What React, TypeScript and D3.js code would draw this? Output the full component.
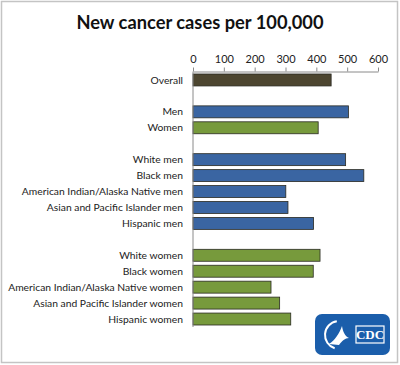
import { useEffect, useRef } from "react";
import * as d3 from "d3";

const categories = [
  "Overall",
  "Men",
  "Women",
  "White men",
  "Black men",
  "American Indian/Alaska Native men",
  "Asian and Pacific Islander men",
  "Hispanic men",
  "White women",
  "Black women",
  "American Indian/Alaska Native women",
  "Asian and Pacific Islander women",
  "Hispanic women",
];
const values = [448, 504, 406, 495, 554, 301, 308, 391, 412, 390, 253, 281, 317];
const groups = ["overall", "men", "women", "men", "men", "men", "men", "men", "women", "women", "women", "women", "women"];
// empty rows between the blocks
const rowOrder = [
  "Overall", "gap1", "Men", "Women", "gap2",
  "White men", "Black men", "American Indian/Alaska Native men", "Asian and Pacific Islander men", "Hispanic men",
  "gap3",
  "White women", "Black women", "American Indian/Alaska Native women", "Asian and Pacific Islander women", "Hispanic women",
];
const ticks = [0, 100, 200, 300, 400, 500, 600];

const W = 400;
const H = 365;
const FONT = "Lato, 'Open Sans', sans-serif";

const App = () => {
  const ref = useRef<SVGSVGElement>(null);

  useEffect(() => {
    const svg = d3.select(ref.current);
    svg.selectAll("*").remove();

    const color = d3
      .scaleOrdinal<string>()
      .domain(["overall", "men", "women"])
      .range(["#4d4630", "#3a65a2", "#779a3c"]);

    const x = d3.scaleLinear().domain([0, 600]).range([193, 378]);
    const y = d3
      .scaleBand()
      .domain(rowOrder)
      .range([72, 327])
      .paddingInner(0.25)
      .paddingOuter(0.125);

    // frame
    svg
      .append("rect")
      .attr("x", 1.5)
      .attr("y", 1.5)
      .attr("width", W - 4)
      .attr("height", H - 4)
      .attr("fill", "#fff")
      .attr("stroke", "#c4c4c4")
      .attr("stroke-width", 1.5);

    svg
      .append("text")
      .attr("x", 200)
      .attr("y", 29)
      .attr("text-anchor", "middle")
      .attr("font-family", FONT)
      .attr("font-weight", "bold")
      .attr("font-size", 18.3)
      .attr("fill", "#111")
      .text("New cancer cases per 100,000");

    const axis = svg
      .append("g")
      .attr("transform", "translate(0,71.5)")
      .call(d3.axisTop(x).tickValues(ticks).tickSize(4).tickSizeOuter(0).tickPadding(5));
    axis.select(".domain").attr("stroke", "#8a8a8a");
    axis.selectAll(".tick line").attr("stroke", "#8a8a8a");
    axis
      .selectAll(".tick text")
      .attr("font-family", FONT)
      .attr("font-size", 11)
      .attr("fill", "#222");

    const data = categories.map((c, i) => ({ name: c, value: values[i], group: groups[i] }));

    svg
      .append("g")
      .selectAll("rect")
      .data(data)
      .enter()
      .append("rect")
      .attr("x", x(0))
      .attr("y", (d) => y(d.name) as number)
      .attr("width", (d) => x(d.value) - x(0))
      .attr("height", y.bandwidth())
      .attr("fill", (d) => color(d.group))
      .attr("stroke", "#2a2a22")
      .attr("stroke-width", 0.8);

    svg
      .append("line")
      .attr("x1", x(0))
      .attr("x2", x(0))
      .attr("y1", 71.5)
      .attr("y2", 327)
      .attr("stroke", "#8a8a8a");

    svg
      .append("g")
      .selectAll("text")
      .data(data)
      .enter()
      .append("text")
      .attr("x", 183)
      .attr("y", (d) => (y(d.name) as number) + y.bandwidth() / 2)
      .attr("dy", "0.35em")
      .attr("text-anchor", "end")
      .attr("font-family", FONT)
      .attr("font-size", 10.3)
      .attr("fill", "#222")
      .text((d) => d.name);

    // CDC logo
    const logo = svg.append("g").attr("transform", "translate(315,314)");
    logo.append("rect").attr("width", 75).attr("height", 41).attr("rx", 7).attr("fill", "#1b5eab");
    logo
      .append("path")
      .attr("d", d3.arc()({ innerRadius: 13, outerRadius: 15, startAngle: Math.PI * 1.1, endAngle: Math.PI * 1.95 }) as string)
      .attr("transform", "translate(24,21)")
      .attr("fill", "#fff");
    logo
      .append("path")
      .attr("d", "M14,30 C20,26 24,20 27,12 C28,18 30,22 34,24 C30,24 27,27 24,31 Z")
      .attr("fill", "#fff");
    logo
      .append("rect")
      .attr("x", 41)
      .attr("y", 12)
      .attr("width", 28)
      .attr("height", 17)
      .attr("fill", "#1b5eab")
      .attr("stroke", "#fff")
      .attr("stroke-width", 1.2);
    logo
      .append("text")
      .attr("x", 55)
      .attr("y", 25)
      .attr("text-anchor", "middle")
      .attr("font-family", "'Liberation Serif', serif")
      .attr("font-weight", "bold")
      .attr("font-size", 13)
      .attr("fill", "#fff")
      .text("CDC");
  }, []);

  return (
    <svg
      ref={ref}
      width={W}
      height={H}
      style={{ position: "absolute", left: 0, top: 0 }}
    />
  );
};

export default App;
